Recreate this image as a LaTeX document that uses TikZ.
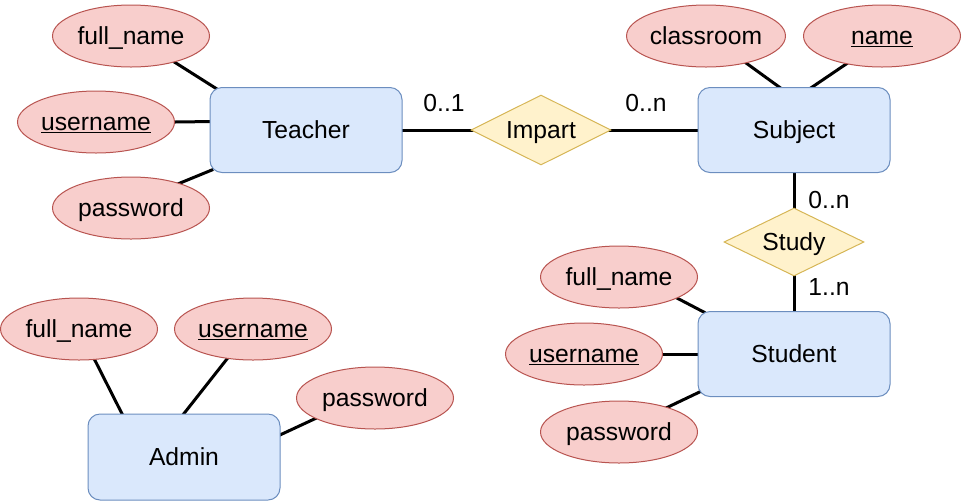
\documentclass[tikz,border=0pt]{standalone}
\usepackage{fontspec}
\setmainfont{Liberation Sans}
\usetikzlibrary{shapes.geometric,backgrounds}
\definecolor{bfill}{HTML}{DAE8FC}
\definecolor{bline}{HTML}{6C8EBF}
\definecolor{rfill}{HTML}{F8CECC}
\definecolor{rline}{HTML}{B85450}
\definecolor{yfill}{HTML}{FFF2CC}
\definecolor{yline}{HTML}{D6B656}
\begin{document}
\begin{tikzpicture}[x=0.75pt,y=-0.75pt,
  every node/.style={font=\fontsize{18.5}{22}\selectfont, text=black, text height=12.5pt, text depth=0pt},
  ent/.style={draw=bline, fill=bfill, rounded corners=9pt, minimum width=144pt, minimum height=63.75pt, line width=0.75pt, inner sep=0pt},
  attr/.style={ellipse, draw=rline, fill=rfill, minimum width=117.75pt, minimum height=46.5pt, inner sep=0pt, line width=0.75pt},
  rel/.style={diamond, aspect=2, draw=yline, fill=yfill, minimum width=105pt, minimum height=52.5pt, inner sep=0pt, line width=0.75pt},
  conn/.style={line width=2.25pt, shorten <=-3pt, shorten >=-3pt},
  card/.style={inner sep=0pt}]
\useasboundingbox (0,0) rectangle (961,501);
% entities
\node[ent] (teacher) at (306,130) {Teacher};
\node[ent] (subject) at (794,130) {Subject};
\node[ent] (student) at (794,354) {Student};
\node[ent, minimum height=64.5pt] (admin) at (184,457) {Admin};
% relations
\node[rel] (impart) at (541,130) {Impart};
\node[rel, minimum height=51pt] (study) at (794,242) {Study};
% attributes
\node[attr] (tfn) at (131,36) {full\_name};
\node[attr] (tun) at (96,122) {\underline{username}};
\node[attr] (tpw) at (131,208) {password};
\node[attr] (cls) at (706,36) {classroom};
\node[attr] (nam) at (882,36) {\underline{name}};
\node[attr] (sfn) at (619,277) {full\_name};
\node[attr] (sun) at (584,354) {\underline{username}};
\node[attr] (spw) at (619,432) {password};
\node[attr] (afn) at (79,329) {full\_name};
\node[attr] (aun) at (253,329) {\underline{username}};
\node[attr] (apw) at (375,398) {password};
% cardinalities
\node[card] (c1) at (444,103) {0..1};
\node[card] (c2) at (646,103) {0..n};
\node[card] (c3) at (829,200) {0..n};
\node[card] (c4) at (829,287) {1..n};
% connectors
\begin{scope}[on background layer]
\draw[conn] (tfn.-31) -- (teacher.155);
\draw[conn] (tun.0) -- (teacher.175);
\draw[conn] (tpw.27) -- (teacher.203);
\draw[conn] (teacher.east) -- (impart.west);
\draw[conn] (impart.east) -- (subject.west);
\draw[conn] (cls.-34) -- (subject.109);
\draw[conn] (nam.-142) -- (subject.67);
\draw[conn] (subject.south) -- (study.north);
\draw[conn] (study.south) -- (student.north);
\draw[conn] (sfn.-20) -- (student.155);
\draw[conn] (sun.0) -- (student.180);
\draw[conn] (spw.27) -- (student.202);
\draw[conn] (afn.-63) -- (admin.145);
\draw[conn] (aun.-131) -- (admin.90);
\draw[conn] (apw.199) -- (admin.13);
\end{scope}
\end{tikzpicture}
\end{document}
